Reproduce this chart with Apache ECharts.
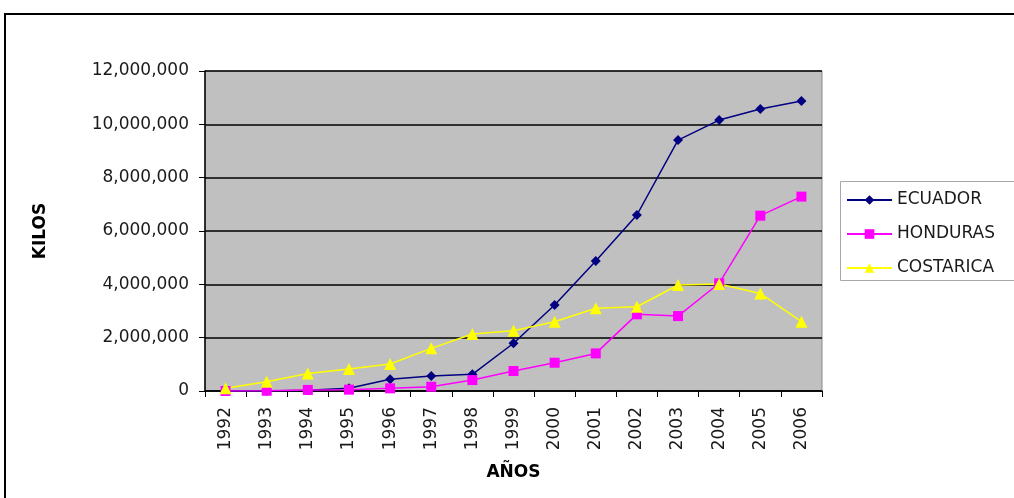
<!DOCTYPE html>
<html><head><meta charset="utf-8">
<script src="https://cdn.jsdelivr.net/npm/echarts@6/dist/echarts.min.js"></script>
<style>html,body{margin:0;padding:0;background:#fff}#c{width:1014px;height:498px}</style>
</head><body><div id="c"></div>
<script>
const years = ['1992','1993','1994','1995','1996','1997','1998','1999','2000','2001','2002','2003','2004','2005','2006'];
const ecuador = [0, 0, 30000, 100000, 440000, 560000, 625000, 1790000, 3225000, 4875000, 6600000, 9410000, 10160000, 10575000, 10875000];
const honduras = [0, 10000, 40000, 50000, 100000, 160000, 410000, 750000, 1060000, 1410000, 2875000, 2810000, 4040000, 6575000, 7290000];
const costarica = [100000, 350000, 660000, 825000, 1010000, 1600000, 2140000, 2260000, 2600000, 3100000, 3160000, 3975000, 4010000, 3660000, 2600000];
const seriesNames = ['ECUADOR', 'HONDURAS', 'COSTARICA'];

const chart = echarts.init(document.getElementById('c'));
const font = '"DejaVu Sans", sans-serif';
function mk(name, data, color, symbol, size) {
  return { name, type: 'line', data, symbol, symbolSize: size,
    itemStyle: { color }, lineStyle: { color, width: 1.5 }, animation: false };
}
chart.setOption({
  animation: false,
  graphic: [
    { type: 'rect', shape: { x: 5, y: 14, width: 1100, height: 600 },
      style: { fill: 'none', stroke: '#000', lineWidth: 2 }, z: 100 },
    { type: 'rect', shape: { x: 840.5, y: 181.5, width: 200, height: 99 },
      style: { fill: '#fff', stroke: '#a8a8a8', lineWidth: 1 }, z: -1 }
  ],
  grid: { left: 205, right: 192, top: 71, bottom: 107, show: true,
    backgroundColor: '#C0C0C0', borderColor: '#8a8a8a', borderWidth: 1 },
  legend: { orient: 'vertical', left: 846, top: 190, padding: 0,
    itemGap: 14, itemWidth: 45, itemHeight: 12,
    textStyle: { fontFamily: font, fontSize: 17, color: '#1a1a1a', lineHeight: 20 },
    data: seriesNames },
  xAxis: { type: 'category', data: years, boundaryGap: true,
    name: 'AÑOS', nameLocation: 'middle', nameGap: 73,
    nameTextStyle: { fontFamily: font, fontSize: 17, fontWeight: 'bold', color: '#000' },
    axisLine: { lineStyle: { color: '#000', width: 1.5 } },
    axisTick: { show: true, length: 6, lineStyle: { color: '#000' } },
    axisLabel: { rotate: 90, fontFamily: font, fontSize: 17, color: '#1a1a1a', margin: 16 } },
  yAxis: { type: 'value', min: 0, max: 12000000, interval: 2000000,
    name: 'KILOS', nameLocation: 'middle', nameGap: 156, nameRotate: 90,
    nameTextStyle: { fontFamily: font, fontSize: 17, fontWeight: 'bold', color: '#000' },
    axisLine: { show: true, lineStyle: { color: '#000', width: 1.5 } },
    axisTick: { show: true, length: 6, lineStyle: { color: '#000' } },
    splitLine: { lineStyle: { color: '#000', width: 1.5 } },
    axisLabel: { fontFamily: font, fontSize: 17, color: '#1a1a1a', margin: 16,
      formatter: v => v.toLocaleString('en-US') } },
  series: [
    mk('ECUADOR', ecuador, '#000080', 'diamond', 10),
    mk('HONDURAS', honduras, '#FF00FF', 'rect', 10),
    mk('COSTARICA', costarica, '#FFFF00', 'triangle', 12)
  ]
});
</script></body></html>
